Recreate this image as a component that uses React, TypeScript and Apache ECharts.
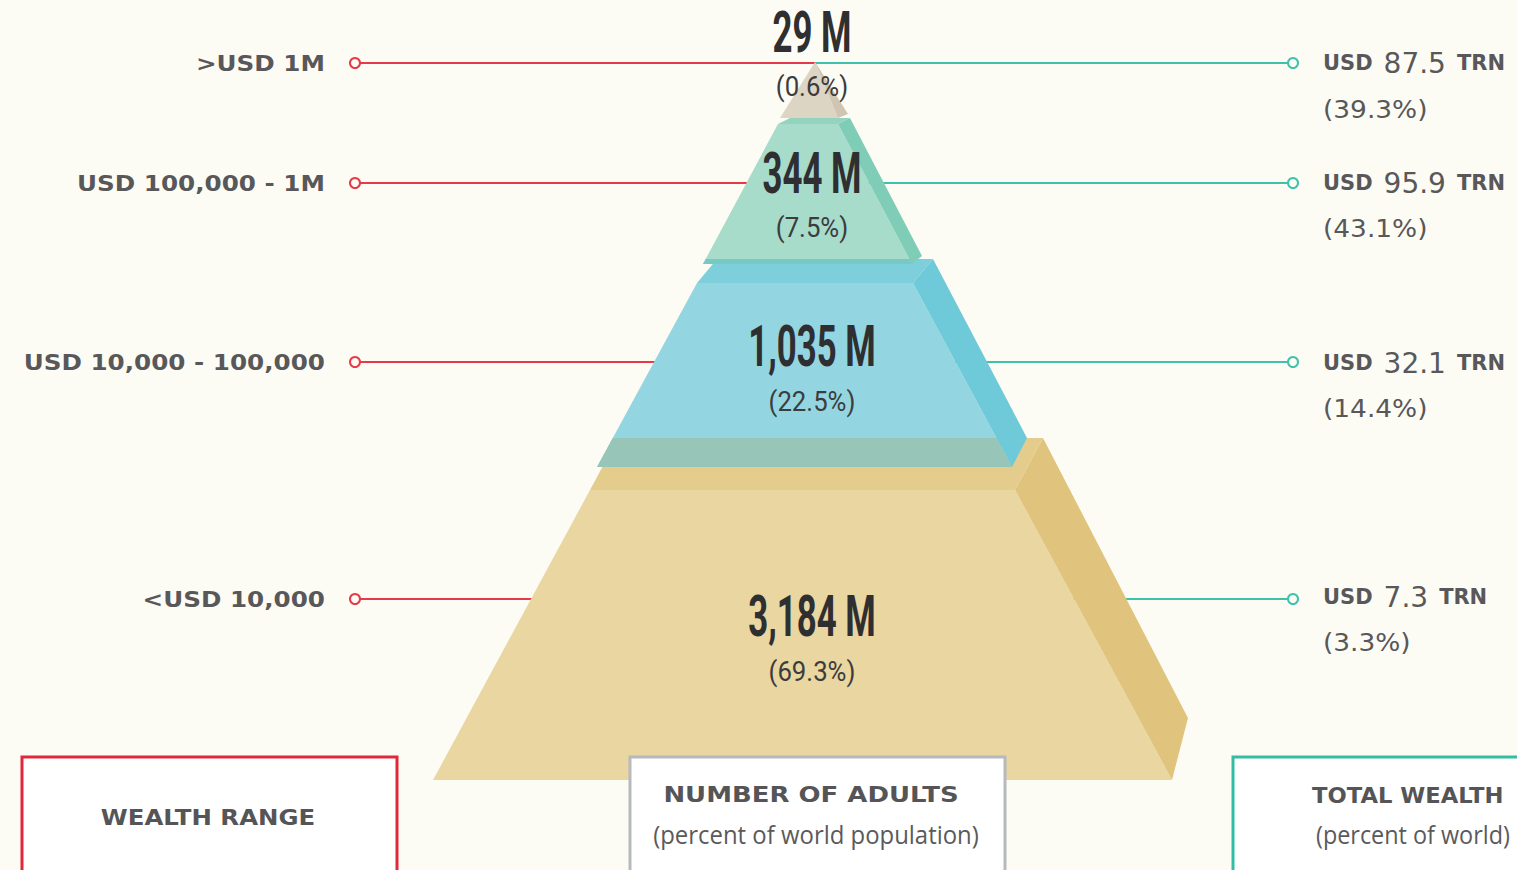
import React, { useEffect, useRef } from "react";
import * as echarts from "echarts";

// ---------- data ----------
const wealthRanges = [">USD 1M", "USD 100,000 - 1M", "USD 10,000 - 100,000", "<USD 10,000"];
const adultsMillions = [29, 344, 1035, 3184];
const adultsPct = [0.6, 7.5, 22.5, 69.3];
const wealthTrn = [87.5, 95.9, 32.1, 7.3];
const wealthPct = [39.3, 43.1, 14.4, 3.3];

// ---------- layout (pixel space of the 1517x870 canvas) ----------
const W = 1517;
const H = 870;
const BG = "#fdfcf4";
const rowY = [63, 183, 362, 599];
const adultLabelY = [33, 174, 347, 617];
const adultPctY = [87, 228, 402, 672];
const wealthLabelY = [63, 183, 363, 597];
const wealthPctY = [110, 229, 409, 643];
const leftDotX = 355;
const rightDotX = 1293;
const splitX = 815;
const centerX = 812;
const leftLabelX = 325;
const rightLabelX = 1323;

const layerTopY = [62, 124, 283, 490];
const layerBotY = [118, 264, 467, 780];
const layerTopX = [[815, 815], [778, 838], [697, 913], [590, 1015]];
const layerBotX = [[780, 838], [703, 912], [597, 1012], [433, 1172]];
const depthTop = [[0, 0], [12, -6], [20, -24], [28, -52]];
const depthBot = [[10, -4], [10, -8], [15, -29], [16, -62]];

const faceFront = ["#ddd5c4", "#a7dbca", "#93d6e1", "#e9d6a1"];
const faceTop = ["#d6cdb9", "#93d3bf", "#7dcfdc", "#e4cc8d"];
const faceSide = ["#cfc5b1", "#80cdb7", "#6ec9d8", "#e0c47d"];
const overlapColor = ["#d6cdb9", "#78c8c3", "#97c6b8", "#e9d6a1"];

const RED = "#e63a4a";
const TEAL = "#3fc2ab";
const GREY_TEXT = "#58585a";
const DARK_TEXT = "#2f2f31";

export default function App() {
  const ref = useRef<HTMLDivElement>(null);

  useEffect(() => {
    if (!ref.current) return;
    const chart = echarts.init(ref.current, undefined, { renderer: "svg" });
    const idx = wealthRanges.map((_, i) => [i, 0]);
    const bottomFirst = [3, 2, 1, 0].map((i) => [i, 0]);

    const connectors = (params: any, api: any) => {
      const i = api.value(0);
      const y = rowY[i];
      const L = api.coord([leftDotX, y]);
      const S = api.coord([splitX, y]);
      const R = api.coord([rightDotX, y]);
      return {
        type: "group",
        children: [
          { type: "line", shape: { x1: L[0] + 5, y1: L[1], x2: S[0], y2: S[1] }, style: { stroke: RED, lineWidth: 2 } },
          { type: "line", shape: { x1: S[0], y1: S[1], x2: R[0] - 5, y2: R[1] }, style: { stroke: TEAL, lineWidth: 2 } },
          { type: "circle", shape: { cx: L[0], cy: L[1], r: 5 }, style: { fill: BG, stroke: RED, lineWidth: 2 } },
          { type: "circle", shape: { cx: R[0], cy: R[1], r: 5 }, style: { fill: BG, stroke: TEAL, lineWidth: 2 } },
        ],
      };
    };

    const pyramid = (params: any, api: any) => {
      const i = api.value(0);
      const P = (x: number, y: number) => api.coord([x, y]);
      const yT = layerTopY[i];
      const yB = layerBotY[i];
      const [tl, tr] = layerTopX[i];
      const [bl, br] = layerBotX[i];
      const [dtx, dty] = depthTop[i];
      const [dbx, dby] = depthBot[i];
      const front = [P(tl, yT), P(tr, yT), P(br, yB), P(bl, yB)];
      const top = [P(tl, yT), P(tl + dtx, yT + dty), P(tr + dtx, yT + dty), P(tr, yT)];
      const side = [P(tr, yT), P(tr + dtx, yT + dty), P(br + dbx, yB + dby), P(br, yB)];
      const children: any[] = [
        { type: "polygon", shape: { points: front }, style: { fill: faceFront[i] } },
        { type: "polygon", shape: { points: top }, style: { fill: faceTop[i] } },
        { type: "polygon", shape: { points: side }, style: { fill: faceSide[i] } },
      ];
      if (i < 3) {
        const yb = layerTopY[i + 1] + depthTop[i + 1][1];
        if (yb < yB) {
          const t = (yb - yT) / (yB - yT);
          const xl = tl + (bl - tl) * t;
          const xr = tr + (br - tr) * t;
          children.push({
            type: "polygon",
            shape: { points: [P(xl, yb), P(xr, yb), P(br, yB), P(bl, yB)] },
            style: { fill: overlapColor[i] },
          });
        }
      }
      return { type: "group", children };
    };

    const labels = (params: any, api: any) => {
      const i = api.value(0);
      const C1 = api.coord([centerX, adultLabelY[i]]);
      const C2 = api.coord([centerX, adultPctY[i]]);
      const Lp = api.coord([leftLabelX, rowY[i]]);
      const R1 = api.coord([rightLabelX, wealthLabelY[i]]);
      const R2 = api.coord([rightLabelX, wealthPctY[i]]);
      return {
        type: "group",
        children: [
          {
            type: "text", x: C1[0], y: C1[1], scaleX: 0.6,
            style: {
              text: adultsMillions[i].toLocaleString("en-US") + " M",
              fontFamily: "Roboto", fontWeight: "bold", fontSize: 58, fill: DARK_TEXT,
              textAlign: "center", textVerticalAlign: "middle",
            },
          },
          {
            type: "text", x: C2[0], y: C2[1], scaleX: 0.92,
            style: {
              text: "(" + adultsPct[i].toFixed(1) + "%)",
              fontFamily: "Roboto", fontSize: 28, fill: "#3c3c3e",
              textAlign: "center", textVerticalAlign: "middle",
            },
          },
          {
            type: "text", x: Lp[0], y: Lp[1], scaleX: 1.12,
            style: {
              text: wealthRanges[i],
              fontFamily: "DejaVu Sans", fontWeight: "bold", fontSize: 22, fill: GREY_TEXT,
              textAlign: "right", textVerticalAlign: "middle",
            },
          },
          {
            type: "text", x: R1[0], y: R1[1],
            style: {
              text: "{u|USD}{n|" + wealthTrn[i].toFixed(1) + "}{u|TRN}",
              textAlign: "left", textVerticalAlign: "middle",
              rich: {
                u: { fontFamily: "DejaVu Sans", fontWeight: "bold", fontSize: 21, fill: GREY_TEXT },
                n: { fontFamily: "DejaVu Sans", fontSize: 28, fill: GREY_TEXT, padding: [0, 11, 0, 11] },
              },
            },
          },
          {
            type: "text", x: R2[0], y: R2[1], scaleX: 1.1,
            style: {
              text: "(" + wealthPct[i].toFixed(1) + "%)",
              fontFamily: "DejaVu Sans", fontSize: 24, fill: GREY_TEXT,
              textAlign: "left", textVerticalAlign: "middle",
            },
          },
        ],
      };
    };

    const capsStyle = (text: string) => ({
      text, fontFamily: "DejaVu Sans", fontWeight: "bold", fontSize: 22, fill: "#555557",
      textAlign: "center", textVerticalAlign: "middle",
    });
    const subStyle = (text: string) => ({
      text, fontFamily: "Open Sans", fontSize: 26, fill: "#5a5a5c",
      textAlign: "center", textVerticalAlign: "middle",
    });

    chart.setOption({
      animation: false,
      backgroundColor: BG,
      grid: { left: 0, right: 0, top: 0, bottom: 0 },
      xAxis: { type: "value", min: 0, max: W, show: false },
      yAxis: { type: "value", min: 0, max: H, inverse: true, show: false },
      series: [
        { type: "custom", name: "connectors", data: idx, renderItem: connectors, z: 1, silent: true },
        { type: "custom", name: "pyramid", data: bottomFirst, renderItem: pyramid, z: 2, silent: true },
        { type: "custom", name: "labels", data: idx, renderItem: labels, z: 3, silent: true },
      ],
      graphic: [
        { type: "rect", z: 100, shape: { x: 22, y: 757, width: 375, height: 140 }, style: { fill: "#ffffff", stroke: "#e0283b", lineWidth: 3 } },
        { type: "text", z: 101, x: 208, y: 817, scaleX: 1.11, style: capsStyle("WEALTH RANGE") },
        { type: "rect", z: 100, shape: { x: 630, y: 757, width: 375, height: 140 }, style: { fill: "#ffffff", stroke: "#b6babe", lineWidth: 3 } },
        { type: "text", z: 101, x: 811, y: 795, scaleX: 1.18, style: capsStyle("NUMBER OF ADULTS") },
        { type: "text", z: 101, x: 816, y: 834, scaleX: 0.92, style: subStyle("(percent of world population)") },
        { type: "rect", z: 100, shape: { x: 1233, y: 757, width: 375, height: 140 }, style: { fill: "#ffffff", stroke: "#35bca4", lineWidth: 3 } },
        { type: "text", z: 101, x: 1312, y: 795, scaleX: 1.03, style: { ...capsStyle("TOTAL WEALTH"), textAlign: "left" } },
        { type: "text", z: 101, x: 1316, y: 834, scaleX: 0.9, style: { ...subStyle("(percent of world)"), textAlign: "left" } },
      ],
    });
    return () => chart.dispose();
  }, []);

  return <div ref={ref} style={{ position: "fixed", left: 0, top: 0, width: W, height: H }} />;
}
